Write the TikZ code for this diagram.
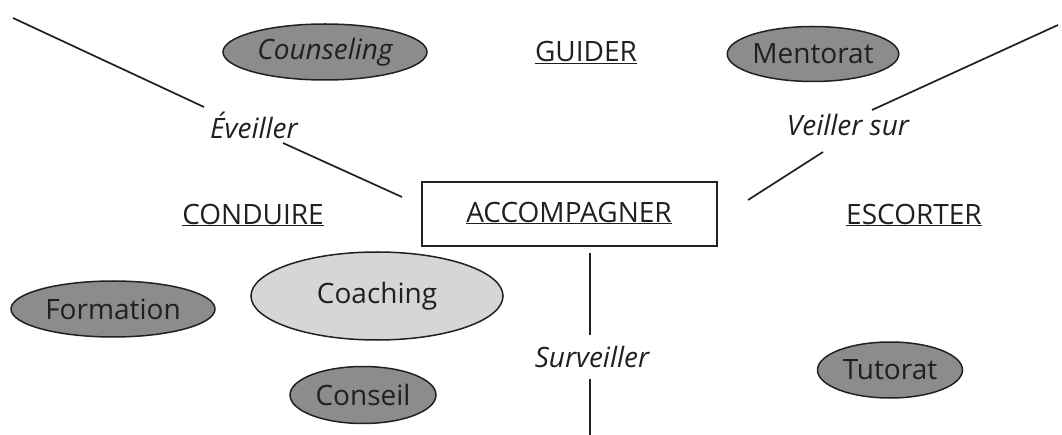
\documentclass[tikz,border=0pt]{standalone}
\usepackage{fontspec}
\setmainfont{Open Sans}
\usetikzlibrary{shapes.geometric}
\definecolor{darkfill}{HTML}{8C8C8C}
\definecolor{lightfill}{HTML}{D6D6D6}
\definecolor{ink}{HTML}{231F20}
\begin{document}
\begin{tikzpicture}[x=1pt,y=-1pt,
  every node/.style={font=\fontsize{28}{32}\selectfont, text=ink, inner sep=0pt},
  dark/.style={ellipse, draw=ink, line width=1.5pt, fill=darkfill},
  light/.style={ellipse, draw=ink, line width=1.5pt, fill=lightfill},
  verb/.style={font=\fontsize{28}{32}\selectfont\itshape},
  conn/.style={draw=ink, line width=1.7pt}]
\useasboundingbox (0,0) rectangle (1062,435);
% central box
\node[draw=ink, line width=1.7pt, minimum width=295pt, minimum height=64pt] (acc) at (569.5,214) {};
\node (acct) at (569,213) {\underline{ACCOMPAGNER}};
% headings
\node (guider) at (586,53) {\underline{GUIDER}};
\node (conduire) at (253,215) {\underline{CONDUIRE}};
\node (escorter) at (914,215) {\underline{ESCORTER}};
% ellipses
\node[dark, minimum width=204pt, minimum height=56pt] (couns) at (325,52) {\itshape Counseling};
\node[dark, minimum width=168pt, minimum height=55pt] (ment) at (813,54) {Mentorat};
\node[light, minimum width=252pt, minimum height=88pt] (coach) at (377,296) {Coaching};
\node[dark, minimum width=204pt, minimum height=56pt] (form) at (113,309) {Formation};
\node[dark, minimum width=146pt, minimum height=57pt] (cons) at (363,395) {Conseil};
\node[dark, minimum width=145pt, minimum height=56pt] (tut) at (890,370) {Tutorat};
% verbs
\node[verb] (ev) at (254,125) {Éveiller};
\node[verb] (vs) at (848,125) {Veiller sur};
\node[verb] (surv) at (592,357) {Surveiller};
% connector ends
\coordinate (tl) at (13,18);
\coordinate (evA) at (204,107);
\coordinate (evB) at (283,143);
\coordinate (accL) at (402,197);
\coordinate (tr) at (1058,25);
\coordinate (vsA) at (872,110);
\coordinate (vsB) at (823,152);
\coordinate (accR) at (748,200);
\coordinate (accB) at (590,253);
\coordinate (svA) at (590,335);
\coordinate (svB) at (590,379);
\coordinate (bot) at (590,435);
\draw[conn] (tl) -- (evA);
\draw[conn] (evB) -- (accL);
\draw[conn] (tr) -- (vsA);
\draw[conn] (vsB) -- (accR);
\draw[conn] (accB) -- (svA);
\draw[conn] (svB) -- (bot);
\end{tikzpicture}
\end{document}
